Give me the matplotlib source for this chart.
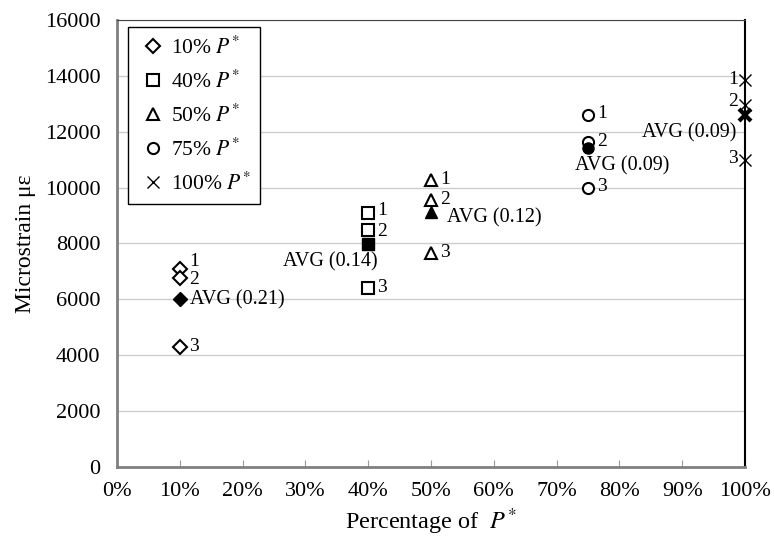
import matplotlib
matplotlib.use('Agg')
import matplotlib.pyplot as plt
from matplotlib.ticker import FuncFormatter

plt.rcParams['font.family'] = ['Liberation Serif', 'DejaVu Serif']
plt.rcParams['mathtext.fontset'] = 'stix'

# load levels (% of P*) and strain readings
pct = [10, 40, 50, 75, 100]
spec1 = [7090, 9080, 10270, 12600, 13850]
spec2 = [6750, 8480, 9560, 11640, 12950]
spec3 = [4280, 6400, 7650, 10000, 10990]
avg = [6000, 7980, 9140, 11410, 12600]
cov = ["0.21", "0.14", "0.12", "0.09", "0.09"]
markers = ['D', 's', '^', 'o', 'x']
msizes = [7, 8, 8, 8, 9]
legend_labels = [f"{p}% $P^{{*}}$" for p in pct]

# AVG label offsets in pixels (dx, dy, ha)
avg_offsets = [(10, 0, 'left'), (-38, -18, 'center'), (16, -6, 'left'),
               (34, -18, 'center'), (-56, -18, 'center')]
# vertical nudges of the specimen numbers 1, 2, 3 (pixels)
num_dy = [(6, -2, 0), (2, -2, 0), (0, -1, 0), (0, -1, 0), (0, 3, 0)]

fig = plt.figure(figsize=(7.74, 5.42), dpi=100)
ax = fig.add_axes([0.1512, 0.1384, 0.8113, 0.8247])

handles = []
for i, p in enumerate(pct):
    m = markers[i]
    if m == 'x':
        kw = dict(color='black', markeredgewidth=1.0)
    else:
        kw = dict(markerfacecolor='white', markeredgecolor='black', markeredgewidth=1.5)
    h, = ax.plot([p, p, p], [spec1[i], spec2[i], spec3[i]], linestyle='none',
                 marker=m, markersize=msizes[i], clip_on=False, zorder=5,
                 label=legend_labels[i], **kw)
    handles.append(h)
    # average marker, filled
    if m == 'x':
        ax.plot([p], [avg[i]], linestyle='none', marker='x', markersize=9,
                markeredgewidth=3, color='black', clip_on=False, zorder=6)
    else:
        ax.plot([p], [avg[i]], linestyle='none', marker=m, markersize=msizes[i],
                color='black', clip_on=False, zorder=6)

    # specimen numbers
    for k, v in enumerate([spec1[i], spec2[i], spec3[i]]):
        dy = num_dy[i][k]
        if p == 100:
            ax.annotate(str(k + 1), (p, v), xytext=(-7, dy + 1), textcoords='offset pixels',
                        ha='right', va='center', fontsize=14)
        else:
            ax.annotate(str(k + 1), (p, v), xytext=(9, dy + 1), textcoords='offset pixels',
                        ha='left', va='center', fontsize=14)

    dx, dy, ha = avg_offsets[i]
    ax.annotate(f"AVG ({cov[i]})", (p, avg[i]), xytext=(dx, dy),
                textcoords='offset pixels', ha=ha, va='center', fontsize=14.5)

ax.set_xlim(0, 100)
ax.set_ylim(0, 16000)
ax.set_xticks(range(0, 101, 10))
ax.set_yticks(range(0, 16001, 2000))
ax.xaxis.set_major_formatter(FuncFormatter(lambda v, _: f"{int(v)}%"))
ax.tick_params(axis='x', direction='in', length=5, color='#999999', labelsize=16, pad=11)
ax.tick_params(axis='y', length=0, labelsize=16, pad=12)

ax.grid(axis='y', color='#cccccc', linewidth=1)
ax.set_axisbelow(True)

ax.spines['left'].set_color('#808080')
ax.spines['bottom'].set_color('#808080')
ax.spines['left'].set_linewidth(2)
ax.spines['bottom'].set_linewidth(2)
ax.spines['top'].set_color('#444444')
ax.spines['right'].set_color('black')
ax.spines['right'].set_linewidth(1.5)

ax.set_xlabel("Percentage of  $P^{*}$", fontsize=17.5, labelpad=4)
ax.set_ylabel("Microstrain \u03bc\u03b5", fontsize=17, labelpad=6)

leg = ax.legend(handles=handles, loc='upper left', bbox_to_anchor=(0.014, 0.99),
                fontsize=15.5, frameon=True, fancybox=False, edgecolor='black',
                framealpha=1, handlelength=1.4, handletextpad=0.15,
                labelspacing=0.55, borderpad=0.45, borderaxespad=0.1)
leg.get_frame().set_linewidth(1.0)

fig.savefig('out.png', dpi=100)
